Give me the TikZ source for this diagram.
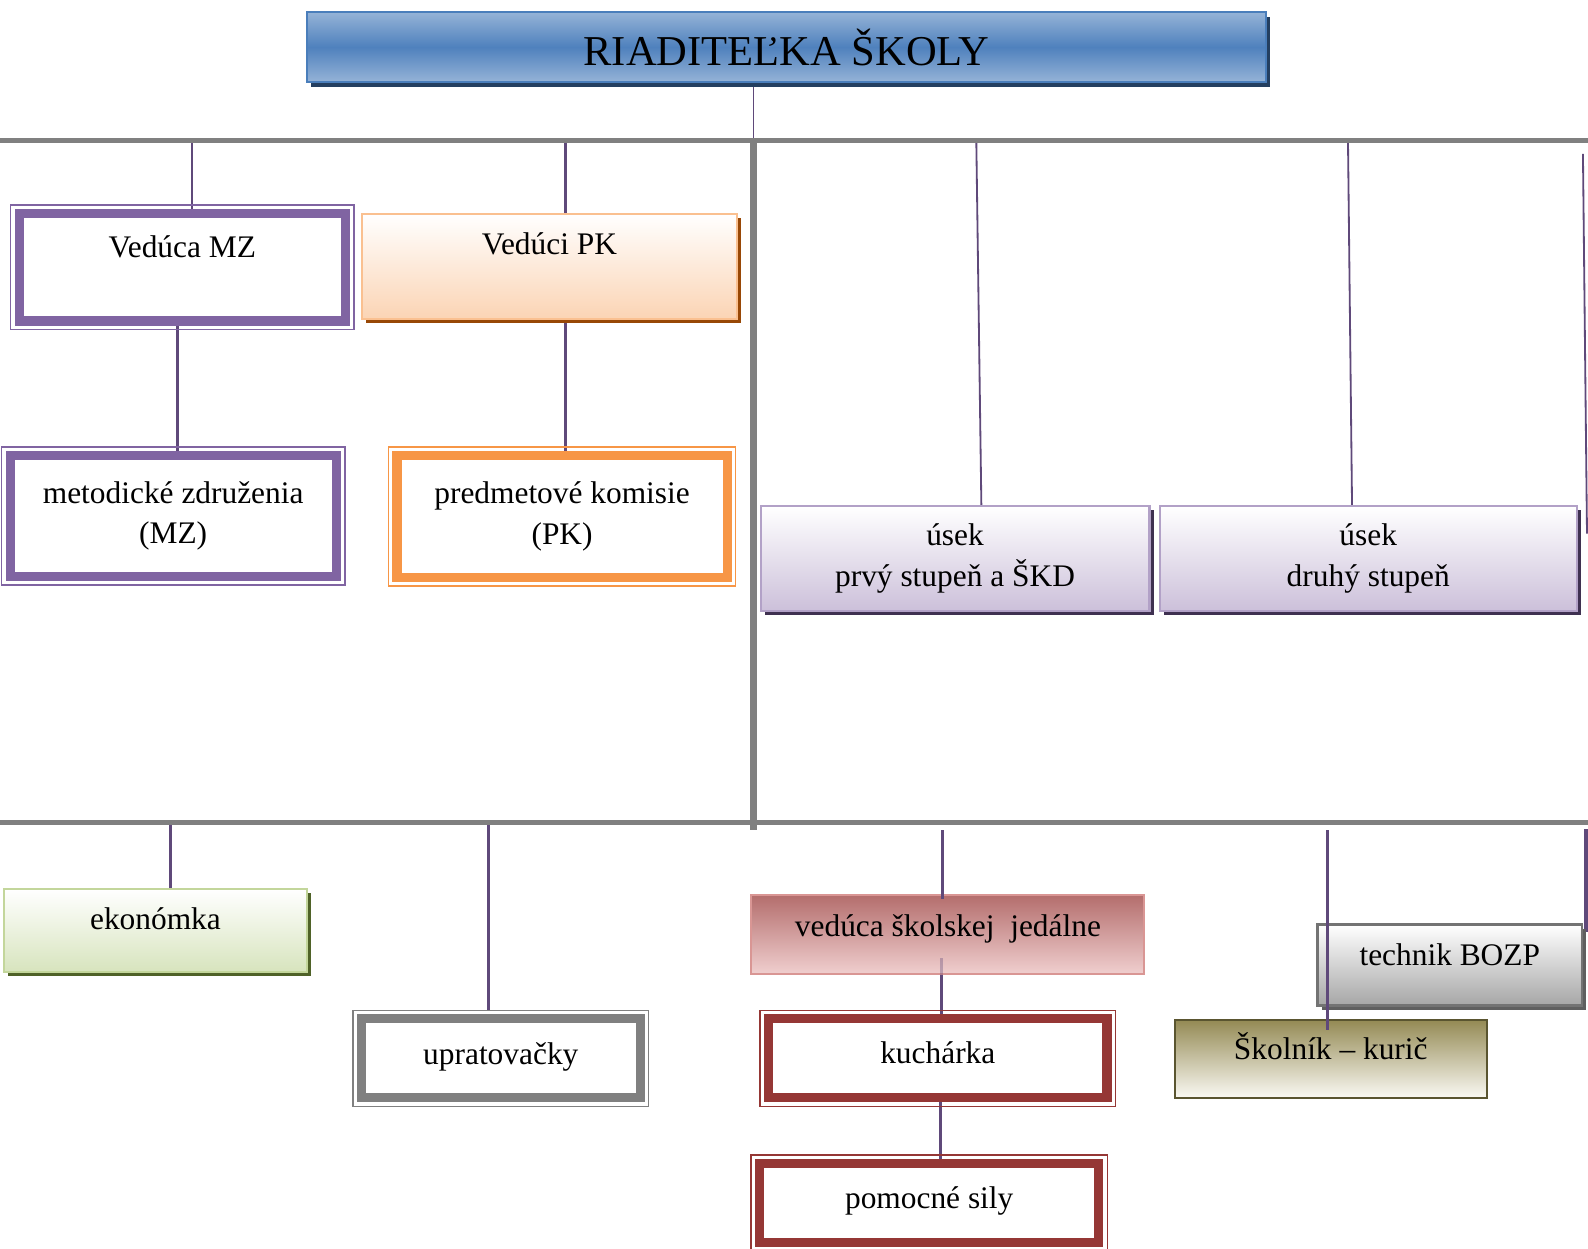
\documentclass[tikz,border=0pt]{standalone}
\usepackage{fontspec}
\setmainfont{Liberation Serif}
\usetikzlibrary{shadows}
\pgfdeclarelayer{bg}
\pgfsetlayers{bg,main}
\definecolor{connc}{HTML}{5F497A}
\definecolor{busc}{HTML}{808080}
\definecolor{titleb}{HTML}{4A7EBB}
\definecolor{titlel}{HTML}{95B3D7}
\definecolor{titlem}{HTML}{4F81BD}
\definecolor{titles}{HTML}{243F60}
\definecolor{mzc}{HTML}{8064A2}
\definecolor{pkb}{HTML}{FAC090}
\definecolor{pkl}{HTML}{FBD4B4}
\definecolor{pks}{HTML}{984806}
\definecolor{pkc}{HTML}{F79646}
\definecolor{uskb}{HTML}{B2A1C7}
\definecolor{uskl}{HTML}{CCC0DA}
\definecolor{usks}{HTML}{3F3151}
\definecolor{ekb}{HTML}{C3D69B}
\definecolor{ekl}{HTML}{D7E4BD}
\definecolor{eks}{HTML}{4F6228}
\definecolor{uprc}{HTML}{808080}
\definecolor{jedt}{HTML}{B46E6D}
\definecolor{jedb}{HTML}{F0CFCF}
\definecolor{jedbd}{HTML}{D99694}
\definecolor{kuchc}{HTML}{953735}
\definecolor{bozb}{HTML}{737373}
\definecolor{bozl}{HTML}{A6A6A6}
\definecolor{bozs}{HTML}{5F5F5F}
\definecolor{skt}{HTML}{948A54}
\definecolor{skl}{HTML}{FAF9F3}
\definecolor{skb}{HTML}{5A5530}
\newcommand\frameout[2]{\draw[draw=#2, line width=1.3pt] ([shift={(-4,-4)}]#1.north west) rectangle ([shift={(4,4)}]#1.south east);}
\begin{document}
\begin{tikzpicture}[x=1pt,y=-1pt,
  conn/.style={draw=connc, line width=3pt},
  thinconn/.style={draw=connc, line width=1.8pt},
  bus/.style={draw=busc, line width=5pt},
  vbus/.style={draw=busc, line width=7pt},
  lbl/.style={font=\fontsize{31}{40}\selectfont, align=center},
  sbox/.style={rectangle, line width=2pt, inner sep=0pt, lbl},
  fbox/.style={rectangle, draw=#1, line width=9pt, outer sep=4.5pt, fill=white, inner sep=0pt, lbl},
  shad/.style={drop shadow={shadow xshift=4pt, shadow yshift=-4pt, fill=#1, opacity=1}}
]
\useasboundingbox (0,0) rectangle (1568,1233);

% bus coordinates
\coordinate (tl) at (0,139);
\coordinate (tr) at (1568,139);
\coordinate (bl) at (0,812);
\coordinate (br) at (1568,812);
\coordinate (vt) at (744,139);
\coordinate (vb) at (744,820);
\coordinate (j0) at (744,137);
\coordinate (j1) at (190,139);
\coordinate (j2) at (558,139);
\coordinate (j3) at (964,139);
\coordinate (j4) at (1331,139);
\coordinate (j5) at (1563,152);
\coordinate (j5e) at (1567,527);
\coordinate (j6) at (168,812);
\coordinate (j7) at (482,812);
\coordinate (j8) at (931,820);
\coordinate (j9) at (1311,820);
\coordinate (j10) at (1566,819);
\coordinate (j10e) at (1566,920);

% title
\node[sbox, draw=titleb, line width=2.5pt, top color=titlel, bottom color=titlel, middle color=titlem,
  drop shadow={shadow xshift=4pt, shadow yshift=-5pt, fill=titles, opacity=1},
  minimum width=947pt, minimum height=69pt, font=\fontsize{42}{50}\selectfont] (title) at (776.5,46.5) {RIADITEĽKA ŠKOLY};

% upper left
\node[fbox=mzc, minimum width=322pt, minimum height=106pt, text height=22pt, text depth=42pt] (mz) at (180,264) {Vedúca MZ};
\frameout{mz}{mzc}
\node[fbox=mzc, minimum width=322pt, minimum height=119pt] (metod) at (171,509.5) {metodické združenia\\(MZ)};
\frameout{metod}{mzc}
\node[sbox, draw=pkb, top color=white, bottom color=pkl, shad=pks,
  minimum width=371pt, minimum height=104pt, text height=22pt, text depth=46pt] (vedPK) at (542.5,263) {Vedúci PK};
\node[fbox=pkc, minimum width=326pt, minimum height=120pt] (predm) at (555,510) {predmetové komisie\\(PK)};
\frameout{predm}{pkc}

% upper right
\node[sbox, draw=uskb, top color=white, bottom color=uskl, shad=usks,
  minimum width=384pt, minimum height=103pt] (usek1) at (943,551.5) {úsek\\prvý stupeň a ŠKD};
\node[sbox, draw=uskb, top color=white, bottom color=uskl, shad=usks,
  minimum width=412pt, minimum height=103pt] (usek2) at (1351,551.5) {úsek\\druhý stupeň};

% lower
\node[sbox, draw=ekb, top color=white, bottom color=ekl, shad=eks,
  minimum width=299pt, minimum height=82pt, text height=22pt, text depth=24pt] (ekon) at (153.5,919) {ekonómka};
\node[fbox=uprc, minimum width=275pt, minimum height=78pt, text height=22pt, text depth=10pt] (upr) at (494.5,1045) {upratovačky};
\frameout{upr}{uprc}
\node[sbox, draw=jedbd, top color=jedt, bottom color=jedb,
  minimum width=388pt, minimum height=78pt, text height=22pt, text depth=18pt] (jedal) at (936,923) {vedúca školskej\ \ jedálne};
\node[fbox=kuchc, minimum width=334pt, minimum height=78pt, text height=22pt, text depth=12pt] (kuch) at (926,1045) {kuchárka};
\frameout{kuch}{kuchc}
\node[fbox=kuchc, minimum width=335pt, minimum height=78pt, text height=22pt, text depth=12pt] (pom) at (917.5,1188) {pomocné sily};
\frameout{pom}{kuchc}
\node[sbox, draw=bozb, line width=2.5pt, top color=white, bottom color=bozl, shad=bozs,
  minimum width=261pt, minimum height=80pt, text height=22pt, text depth=22pt] (bozp) at (1431.5,953) {technik BOZP};
\node[sbox, draw=skb, line width=1.5pt, top color=skt, bottom color=skl,
  minimum width=308pt, minimum height=77pt, text height=22pt, text depth=21pt] (skol) at (1314,1045.5) {Školník – kurič};

% connectors behind the boxes
\begin{pgfonlayer}{bg}
  \draw[thinconn] ([shift={(-32.5,0)}]title.south) -- (j0);
  \draw[conn, line width=2pt] (j1) -- ([shift={(10,0)}]mz.north);
  \draw[conn] ([shift={(-5,0)}]mz.south) -- ([shift={(4,0)}]metod.north);
  \draw[conn] (j2) -- ([shift={(15.5,0)}]vedPK.north);
  \draw[conn] ([shift={(15.5,0)}]vedPK.south) -- ([shift={(3,0)}]predm.north);
  \draw[thinconn] (j3) -- ([shift={(26,0)}]usek1.north);
  \draw[thinconn] (j4) -- ([shift={(-16,0)}]usek2.north);
  \draw[thinconn] (j5) -- (j5e);
  \draw[conn] (j6) -- ([shift={(14.5,0)}]ekon.north);
  \draw[conn] (j7) -- ([shift={(-12.5,-4)}]upr.north);
  \draw[conn] ([shift={(-6,0)}]jedal.south) -- ([shift={(4,0)}]kuch.north);
  \draw[conn] ([shift={(3,0)}]kuch.south) -- ([shift={(11.5,0)}]pom.north);
  \draw[conn] (j10) -- (j10e);
  \draw[bus] (tl) -- (tr);
  \draw[bus] (bl) -- (br);
  \draw[vbus] (vt) -- (vb);
\end{pgfonlayer}

% connectors drawn over boxes
\draw[conn] (j8) -- ([shift={(-5,5)}]jedal.north);
\draw[conn, opacity=.35] ([shift={(-6,-17)}]jedal.south) -- ([shift={(-6,0)}]jedal.south);
\draw[conn] (j9) -- ([shift={(-3,11)}]skol.north);
\end{tikzpicture}
\end{document}
